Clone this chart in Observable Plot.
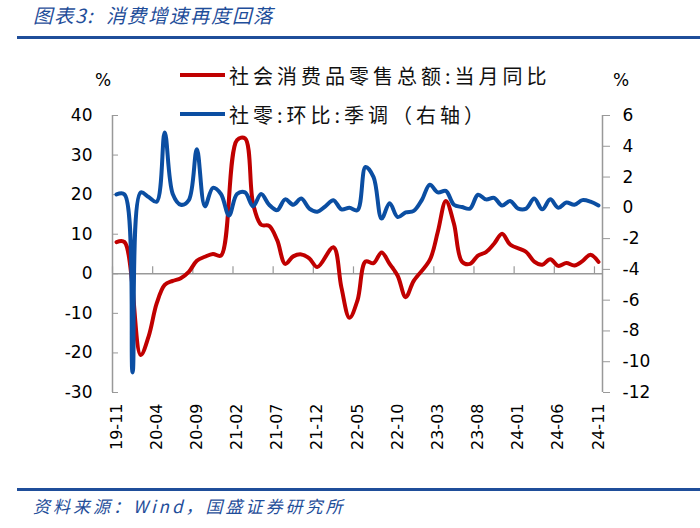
<!DOCTYPE html>
<html><head><meta charset="utf-8">
<script src="https://cdn.jsdelivr.net/npm/d3@7"></script>
<script src="https://cdn.jsdelivr.net/npm/@observablehq/plot@0.6"></script>
<style>
body{margin:0;background:#fff;}
#wrap{position:relative;width:700px;height:528px;overflow:hidden;background:#fff;font-family:"Noto Sans CJK SC",sans-serif;}
.title{position:absolute;left:33px;top:3px;font-size:19.5px;line-height:24px;font-style:italic;color:#1F4E9A;letter-spacing:1.5px;white-space:nowrap;}
.hr1{position:absolute;left:17px;top:36px;width:683px;height:3px;background:#1F4E9A;}
.hr2{position:absolute;left:17px;top:488px;width:683px;height:2.5px;background:#1F4E9A;}
.source{position:absolute;left:33px;top:494px;font-size:17px;line-height:24px;font-style:italic;color:#1F4E9A;letter-spacing:3px;white-space:nowrap;}
#chart{position:absolute;left:0;top:40px;}
.pct{position:absolute;font-family:"DejaVu Sans",sans-serif;font-size:17px;line-height:20px;color:#000;}
.leg{position:absolute;left:180px;height:26px;display:flex;align-items:center;white-space:nowrap;}
.leg .sw{width:45px;height:4px;margin-right:4px;}
.leg .tx{font-size:20px;letter-spacing:4px;color:#111;}
</style></head>
<body>
<div id="wrap">
  <div class="title">图表3:&nbsp;&nbsp;消费增速再度回落</div>
  <div class="hr1"></div>
  <div id="chart"></div>
  <div class="pct" style="left:95px;top:70px;">%</div>
  <div class="pct" style="left:613px;top:70px;">%</div>
  <div class="leg" style="top:62px;"><div class="sw" style="background:#C00000"></div><div class="tx">社会消费品零售总额:当月同比</div></div>
  <div class="leg" style="top:101px;"><div class="sw" style="background:#0B4EA2"></div><div class="tx">社零:环比:季调（右轴）</div></div>
  <div class="hr2"></div>
  <div class="source">资料来源：Wind，国盛证券研究所</div>
</div>
<script>
// Month categories 2019-11 .. 2024-11
const months = ["19-11","19-12",
"20-01","20-02","20-03","20-04","20-05","20-06","20-07","20-08","20-09","20-10","20-11","20-12",
"21-01","21-02","21-03","21-04","21-05","21-06","21-07","21-08","21-09","21-10","21-11","21-12",
"22-01","22-02","22-03","22-04","22-05","22-06","22-07","22-08","22-09","22-10","22-11","22-12",
"23-01","23-02","23-03","23-04","23-05","23-06","23-07","23-08","23-09","23-10","23-11","23-12",
"24-01","24-02","24-03","24-04","24-05","24-06","24-07","24-08","24-09","24-10","24-11"];

// 社会消费品零售总额:当月同比 (%), left axis
const retailYoY = [8.0,8.0,
null,-20.5,-15.8,-7.5,-2.8,-1.8,-1.1,0.5,3.3,4.3,5.0,4.6,
null,33.8,34.2,17.7,12.4,12.1,8.5,2.5,4.4,4.9,3.9,1.7,
null,6.7,-3.5,-11.1,-6.7,3.1,2.7,5.4,2.5,-0.5,-5.9,-1.8,
null,3.5,10.6,18.4,12.7,3.1,2.5,4.6,5.5,7.6,10.1,7.4,
null,5.5,3.1,2.3,3.7,2.0,2.7,2.1,3.2,4.8,3.0];

// 社零:环比:季调 (%), right axis
const retailMoM = [0.87,0.87,
-10.7,1.0,0.7,0.4,4.9,0.9,0.2,0.5,3.8,0.1,1.3,0.9,
-0.5,0.9,1.0,0.1,0.9,0.2,-0.15,0.55,0.2,0.6,-0.05,-0.25,
0.1,0.5,-0.1,0.0,-0.15,2.65,2.0,-0.7,0.3,-0.6,-0.3,-0.2,
0.5,1.5,1.0,1.1,0.2,0.05,-0.05,0.85,0.55,0.65,0.15,0.45,
-0.05,-0.05,0.6,-0.1,0.55,0.0,0.35,0.2,0.5,0.4,0.15];

const leftTicks = [-30,-20,-10,0,10,20,30,40];
const rightTicks = [-12,-10,-8,-6,-4,-2,0,2,4,6];
const labelIdx = [0,5,10,15,20,25,30,35,40,45,50,55,60];

const leftDom = [-30,40], rightDom = [-12,6];
const toLeft = v => leftDom[0] + (v - rightDom[0]) * (leftDom[1]-leftDom[0]) / (rightDom[1]-rightDom[0]);
const fromLeft = v => rightDom[0] + (v - leftDom[0]) * (rightDom[1]-rightDom[0]) / (leftDom[1]-leftDom[0]);

const data = months.map((m,i) => ({i, m, red: retailYoY[i], blue: retailMoM[i]}));
const RED = "#C00000", BLUE = "#0B4EA2", AX = "#999999";

const chart = Plot.plot({
  width: 700, height: 448,
  marginLeft: 112, marginRight: 98, marginTop: 75, marginBottom: 96,
  style: {fontFamily: "'DejaVu Sans', Verdana, sans-serif", background: "transparent", overflow: "visible"},
  x: {type: "linear", domain: [-0.5, months.length - 0.5]},
  y: {domain: leftDom},
  marks: [
    Plot.ruleY([0], {stroke: AX, strokeWidth: 1.5}),
    Plot.ruleX(labelIdx.map(i => i - 0.5), {y1: 0, y2: 1.75, stroke: AX, strokeWidth: 1.2}),
    Plot.ruleX([-0.5, months.length - 0.5], {stroke: AX, strokeWidth: 1.5}),
    Plot.axisY(leftTicks, {anchor: "left", label: null, tickSize: 6, dx: 6, tickPadding: 20, fontSize: 17, stroke: AX, fill: "#000", tickFormat: d => String(d)}),
    Plot.axisY(rightTicks.map(toLeft), {anchor: "right", label: null, tickSize: 7, tickPadding: 13, fontSize: 17, stroke: AX, fill: "#000", tickFormat: d => String(Math.round(fromLeft(d)))}),
    Plot.axisX(labelIdx, {anchor: "bottom", label: null, tickSize: 0, tickPadding: 11, tickRotate: -90, fontSize: 16, fill: "#000", tickFormat: i => months[i]}),
    Plot.line(data.filter(d => d.red != null), {x: "i", y: "red", stroke: RED, strokeWidth: 4, curve: "catmull-rom"}),
    Plot.line(data, {x: "i", y: d => toLeft(d.blue), stroke: BLUE, strokeWidth: 4, curve: "catmull-rom"})
  ]
});
document.getElementById("chart").appendChild(chart);
</script>
</body></html>
